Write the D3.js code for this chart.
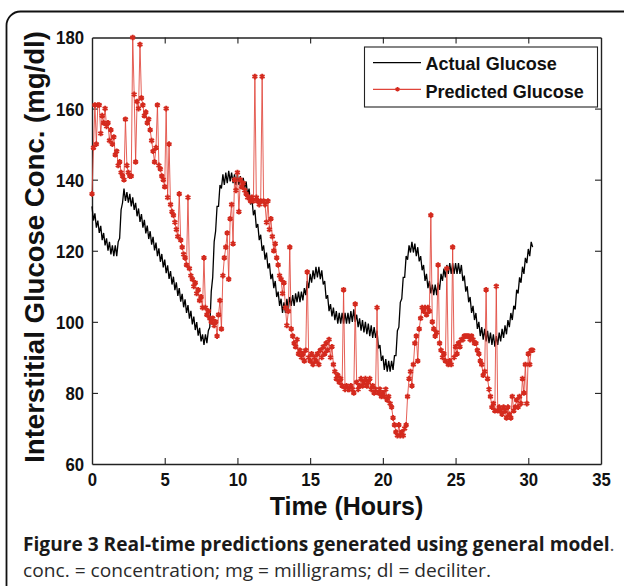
<!DOCTYPE html>
<html>
<head>
<meta charset="utf-8">
<script src="https://cdn.jsdelivr.net/npm/d3@7"></script>
<style>
  html, body { margin: 0; padding: 0; background: #fff; }
  svg { display: block; }
</style>
</head>
<body>
<svg id="chart" width="624" height="586"></svg>
<script>
// ---------------- data ----------------
const sampleStepHours = 0.1;   // time between consecutive samples (hours)

// Actual (measured) interstitial glucose, mg/dl, one value per 0.1 h starting at 0 h
const actualGlucose = [
  132.5,128.5,130.5,126.5,128.5,125,127,123,125,121.5,
  123.5,120,122.5,119,121.5,118.5,121.5,118.5,122.5,123.5,
  131.5,133.5,137.5,134,136.5,133.5,136,132.5,135,131.5,
  133.5,129.7,131.9,128.1,130.3,126.5,128.7,124.9,127.1,123.3,
  125.5,121.7,123.9,120.1,122.3,118.5,120.7,116.9,119.1,115.3,
  117.5,113.7,115.9,112.1,114.3,110.5,112.7,108.9,111.1,107.3,
  109.5,105.7,107.9,104.1,106.3,102.5,104.7,100.9,103.1,99.3,
  101.5,97.7,99.9,96.1,98.3,94.5,96.5,93.5,96.5,94,
  97.5,98.5,108.5,112.5,122.5,125.5,132.5,132.5,138.5,137.5,
  141.5,138.5,142,139,142.5,139.5,142,139,141.5,138.5,
  141.5,138.5,141,138,140.5,137.5,139.5,135.5,137.5,133,
  134.5,130,131.5,126.5,127.5,123,124.5,120,121.5,117.5,
  119.5,115,116.5,112,113.5,109.5,111.5,107,108.5,104.5,
  106.5,102.5,105.5,102.5,106.5,103.5,107,104.5,107.5,104.5,
  108,105.5,108.5,105.5,108.5,106,109.5,107.5,111.5,109.5,
  113.5,111,114.5,112,115.5,112.5,115.5,112,114.5,110.5,
  111.5,106.5,107.5,103,105,101.5,104,100.5,103,99.5,
  102.5,99.5,102.5,99.5,102.5,99.5,102.5,99.5,103,100,
  103.5,100,102,98.5,101,97.5,100.5,97,100,96.5,
  99.5,96,99,95.5,98.5,95.5,97.5,92.5,93.5,89,
  90.5,86.5,89.5,86,89,86,89,86.5,90.5,90.5,
  97.5,98.5,105.5,106.5,112.5,112.5,118.5,117.5,121.5,119.5,
  122.5,119.5,122,118.5,121,117,118.5,114.5,116,111.5,
  113.5,109.5,111.5,108,110.5,107.5,110.5,107.5,111,109,
  113.5,111.5,115,112.5,116,113.5,116.5,113.5,116.5,113.5,
  116.5,113.5,116.5,113.5,116,111.5,113,108.5,110,105.5,
  107,102.5,104.5,100.5,102.5,98,100,96,98.5,95,
  98,94.5,97.5,94,97,93.5,96.5,93,96,93.5,
  97,94.5,98,95.5,99,96.5,100.5,98.5,102.5,100.5,
  104.5,103.5,109,108,112.5,111,115.5,113.5,118,116.5,
  120.5,118.5,122.5,121
];

// Predicted glucose (general model), mg/dl, one value per 0.1 h starting at 0 h
const predictedGlucose = [
  136,149,161,150,161,161,153,158,156,160,
  155,156,151,154,150,152,147,148,144,145,
  142,141,140,157,144,142,141,141,180,164,
  145,162,160,178,163,161,158,159,156,157,
  154,151,148,145,149,161,144,143,141,140,
  138,160,135,150,133,131,130,128,126,124,
  136,123,121,119,118,116,135,115,113,112,
  110,111,108,109,106,107,104,118,104,102,
  103,101,100,101,99,100,96,102,106,98,
  113,118,121,125,112,129,133,122,140,137,
  142,131,140,138,139,137,136,135,135,134,
  135,134,169,135,134,133,134,169,134,133,
  128,134,126,129,124,120,122,118,116,113,
  112,108,111,104,99,103,121,98,96,94,
  93,95,91,92,90,91,89,92,114,90,
  89,91,88,90,89,91,88,92,90,93,
  91,94,92,95,90,93,88,86,84,85,
  83,84,82,109,81,82,81,81,82,81,
  80,105,83,81,82,84,82,83,84,82,
  83,84,81,82,80,81,104,80,81,79,
  80,79,81,78,79,77,76,73,71,69,
  68,71,68,69,68,70,71,79,84,86,
  82,88,94,96,89,98,101,104,103,104,
  102,104,103,130,100,98,96,97,116,94,
  92,90,91,89,115,88,89,88,121,90,
  93,91,94,93,95,95,96,96,96,96,
  95,96,95,94,94,92,91,89,88,85,
  86,109,84,81,79,76,77,75,110,75,
  76,75,74,76,75,73,76,74,73,79,
  75,76,78,76,79,77,84,80,88,77,
  91,88,92,92
];

const seriesNames = ["Actual Glucose", "Predicted Glucose"];
const xDomain = [0, 35];
const yDomain = [60, 180];
const xTickValues = [0, 5, 10, 15, 20, 25, 30, 35];
const yTickValues = [60, 80, 100, 120, 140, 160, 180];
const xAxisTitle = "Time (Hours)";
const yAxisTitle = "Interstitial Glucose Conc. (mg/dl)";
const captionTitle = "Figure 3 Real-time predictions generated using general model";
const captionNote = "conc. = concentration; mg = milligrams; dl = deciliter.";

// ---------------- drawing ----------------
const svg = d3.select("#chart");
const W = 624, H = 586;
const plot = { left: 92, right: 601, top: 37.5, bottom: 464 };
const red = "#d42a1e";
const tickFont = "'Liberation Sans', Arial, Helvetica, sans-serif";

svg.append("rect").attr("width", W).attr("height", H).attr("fill", "#fff");

// outer rounded panel border
svg.append("rect")
  .attr("x", 6.5).attr("y", 11.5).attr("width", 660).attr("height", 640)
  .attr("rx", 14).attr("ry", 14)
  .attr("fill", "none").attr("stroke", "#111").attr("stroke-width", 1.8);

const x = d3.scaleLinear().domain(xDomain).range([plot.left, plot.right]);
const y = d3.scaleLinear().domain(yDomain).range([plot.bottom, plot.top]);

const actualPts = actualGlucose.map((v, i) => [i * sampleStepHours, v]);
const predictedPts = predictedGlucose.map((v, i) => [i * sampleStepHours, v]);

const line = d3.line().x(d => x(d[0])).y(d => y(d[1]));

// frame axes (MATLAB style: ticks inward on all four sides)
const tickLen = 6;
const axisColor = "#222";
function styleAxis(g) {
  g.select(".domain").attr("stroke", axisColor).attr("stroke-width", 1.4);
  g.selectAll(".tick line").attr("stroke", axisColor).attr("stroke-width", 1.1);
}
const gx = svg.append("g").attr("transform", `translate(0,${plot.bottom})`)
  .call(d3.axisBottom(x).tickValues(xTickValues).tickSizeInner(-tickLen).tickSizeOuter(0).tickPadding(9));
const gxTop = svg.append("g").attr("transform", `translate(0,${plot.top})`)
  .call(d3.axisTop(x).tickValues(xTickValues).tickSizeInner(-tickLen).tickSizeOuter(0).tickFormat(""));
const gy = svg.append("g").attr("transform", `translate(${plot.left},0)`)
  .call(d3.axisLeft(y).tickValues(yTickValues).tickSizeInner(-tickLen).tickSizeOuter(0).tickPadding(8));
const gyRight = svg.append("g").attr("transform", `translate(${plot.right},0)`)
  .call(d3.axisRight(y).tickValues(yTickValues).tickSizeInner(-tickLen).tickSizeOuter(0).tickFormat(""));
[gx, gxTop, gy, gyRight].forEach(styleAxis);
gx.selectAll(".tick").filter(d => d === xDomain[0] || d === xDomain[1]).select("line").remove();
gxTop.selectAll(".tick").filter(d => d === xDomain[0] || d === xDomain[1]).select("line").remove();
gy.selectAll(".tick").filter(d => d === yDomain[0] || d === yDomain[1]).select("line").remove();
gyRight.selectAll(".tick").filter(d => d === yDomain[0] || d === yDomain[1]).select("line").remove();

function condense(textSel, sx) {
  textSel.each(function () {
    const t = d3.select(this);
    const tx = +t.attr("x") || 0, ty = +t.attr("y") || 0;
    t.attr("x", 0).attr("y", 0)
     .attr("transform", `translate(${tx},${ty}) scale(${sx},1)`);
  });
}
gx.selectAll(".tick text")
  .attr("font-family", tickFont).attr("font-size", 18).attr("font-weight", "bold")
  .attr("fill", "#111").attr("dy", "0.71em");
gy.selectAll(".tick text")
  .attr("font-family", tickFont).attr("font-size", 18).attr("font-weight", "bold")
  .attr("fill", "#111").attr("dy", "0.36em");
condense(gx.selectAll(".tick text"), 0.93);
condense(gy.selectAll(".tick text"), 0.93);

// data
const dataLayer = svg.append("g");
dataLayer.append("path").datum(actualPts)
  .attr("d", line).attr("fill", "none").attr("stroke", "#000").attr("stroke-width", 1.3);

dataLayer.append("path").datum(predictedPts)
  .attr("d", line).attr("fill", "none").attr("stroke", "#e0443a").attr("stroke-width", 1)
  .attr("stroke-opacity", 0.85);

const marker = d3.symbol(d3.symbolAsterisk, 22);
dataLayer.selectAll("path.pm").data(predictedPts).join("path")
  .attr("class", "pm")
  .attr("d", marker)
  .attr("transform", d => `translate(${x(d[0])},${y(d[1])})`)
  .attr("fill", "none").attr("stroke", red).attr("stroke-width", 1.9);

// legend
const lg = svg.append("g");
lg.append("rect").attr("x", 364.5).attr("y", 47).attr("width", 233).attr("height", 60)
  .attr("fill", "#fff").attr("stroke", "#222").attr("stroke-width", 1.1);
const legendRows = [
  { name: seriesNames[0], y: 62.7, color: "#000", marker: false, baseline: 69.5 },
  { name: seriesNames[1], y: 89.3, color: "#e0443a", marker: true, baseline: 97.5 }
];
legendRows.forEach(r => {
  lg.append("line").attr("x1", 373).attr("x2", 421).attr("y1", r.y).attr("y2", r.y)
    .attr("stroke", r.color).attr("stroke-width", 1.2);
  if (r.marker) {
    lg.append("path").attr("d", d3.symbol(d3.symbolAsterisk, 14))
      .attr("transform", `translate(397.5,${r.y})`)
      .attr("fill", "none").attr("stroke", red).attr("stroke-width", 1.6);
  }
  const t = lg.append("text").attr("font-family", tickFont).attr("font-size", 19)
    .attr("font-weight", "bold").attr("fill", "#111").text(r.name);
  t.attr("transform", `translate(425.5,${r.baseline}) scale(0.95,1)`);
});

// axis titles
svg.append("text")
  .attr("x", (plot.left + plot.right) / 2).attr("y", 515)
  .attr("text-anchor", "middle")
  .attr("font-family", tickFont).attr("font-size", 25).attr("font-weight", "bold")
  .attr("fill", "#111").text(xAxisTitle);

const yt = svg.append("text")
  .attr("text-anchor", "middle")
  .attr("transform", `translate(44,247) rotate(-90)`)
  .attr("font-family", tickFont).attr("font-size", 27).attr("font-weight", "bold")
  .attr("fill", "#111").text(yAxisTitle);
{
  const w = yt.node().getComputedTextLength();
  const s = 432 / w;
  yt.attr("transform", `translate(44,247) rotate(-90) scale(${s},1)`);
}

// caption
const capFont = "'Open Sans', 'Noto Sans', sans-serif";
const cap1 = svg.append("text")
  .attr("font-family", capFont).attr("font-size", 19).attr("font-weight", "bold")
  .attr("fill", "#1a1a1a");
cap1.append("tspan").text(captionTitle);
{
  const w = cap1.node().getComputedTextLength();
  const s = 587 / w;
  cap1.attr("transform", `translate(23,551) scale(${s},1)`);
  cap1.append("tspan").attr("font-weight", "normal").attr("fill", "#555").text(".");
}
const cap2 = svg.append("text")
  .attr("font-family", capFont).attr("font-size", 19)
  .attr("fill", "#2a2a2a").text(captionNote);
{
  const w = cap2.node().getComputedTextLength();
  const s = 468 / w;
  cap2.attr("transform", `translate(23,577) scale(${s},1)`);
}
</script>
</body>
</html>
